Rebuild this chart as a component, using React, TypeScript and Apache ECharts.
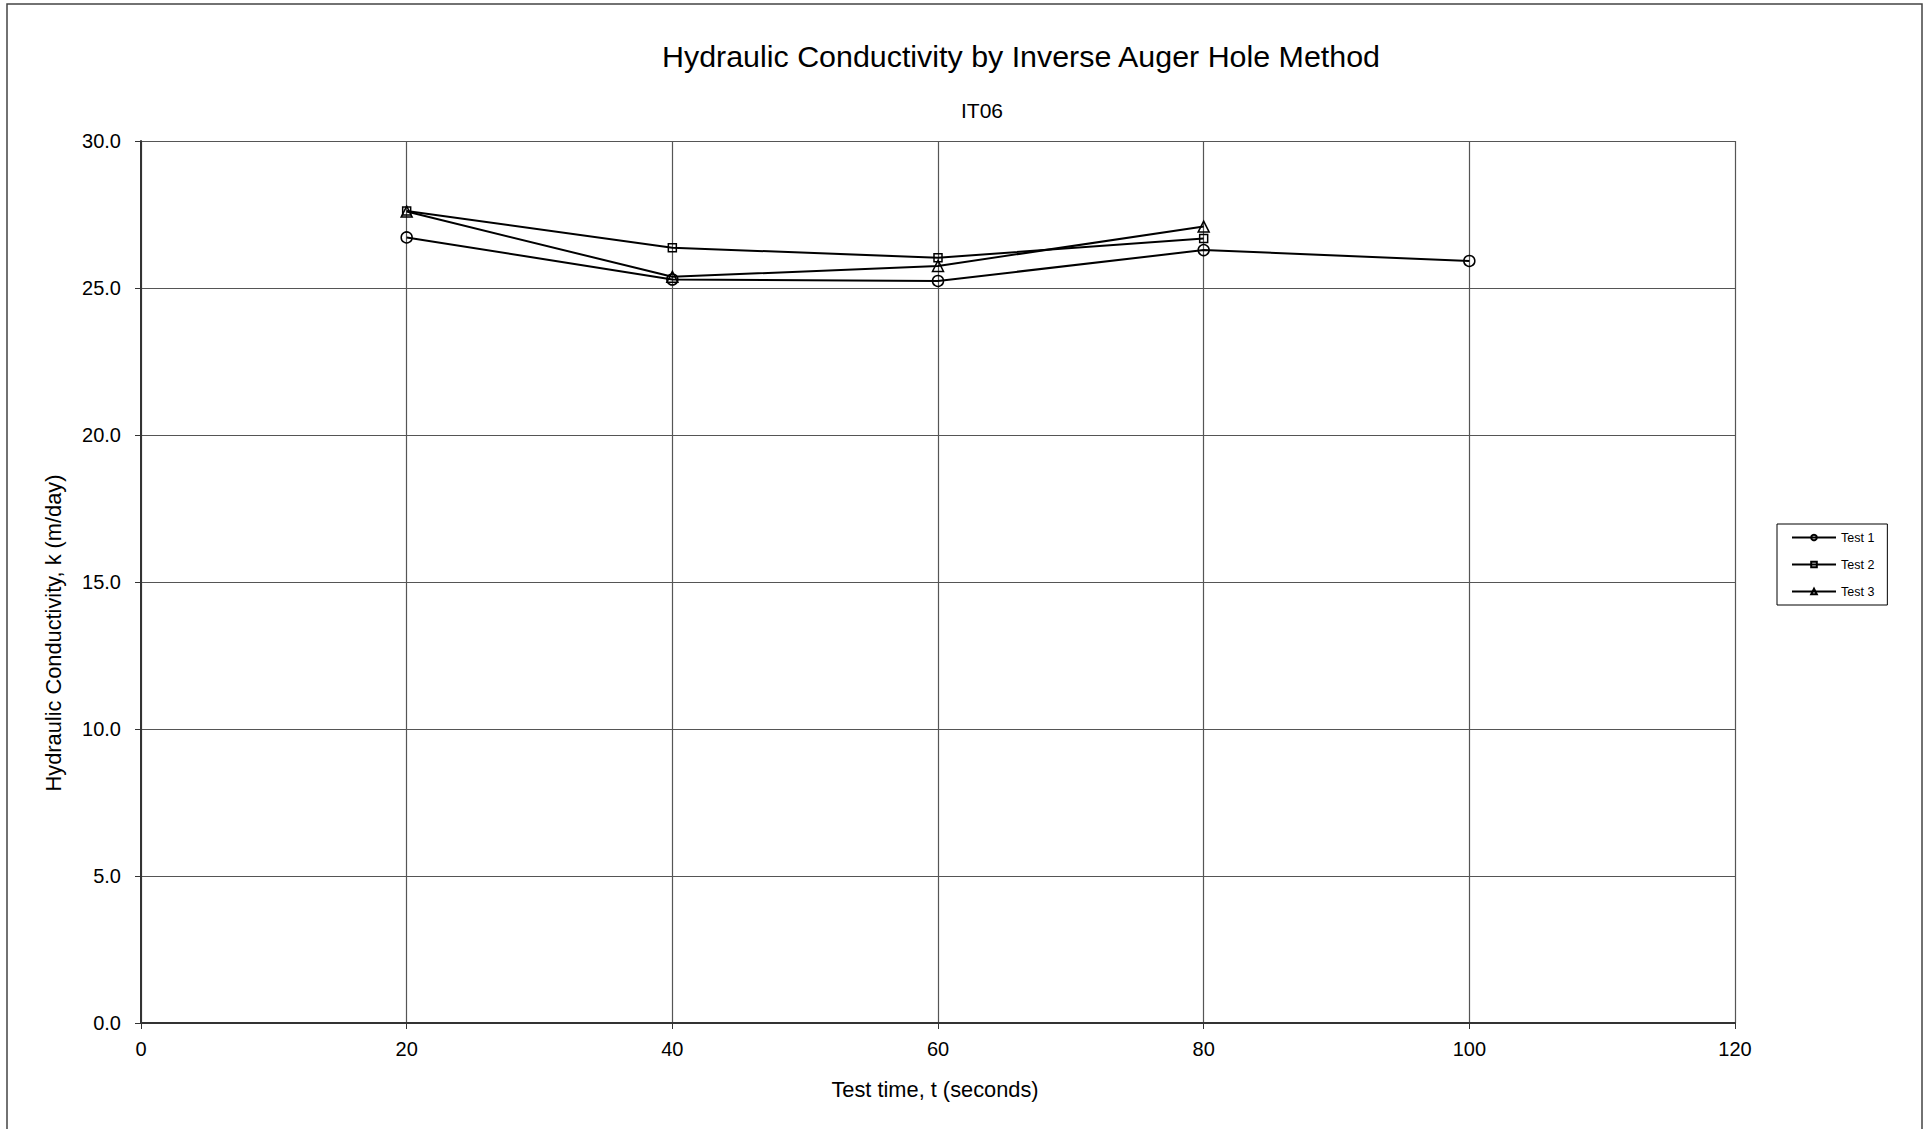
import React, { useEffect, useRef } from "react";
import * as echarts from "echarts";

const TITLE = "Hydraulic Conductivity by Inverse Auger Hole Method";
const SUBTITLE = "IT06";
const X_NAME = "Test time, t (seconds)";
const Y_NAME = "Hydraulic Conductivity, k (m/day)";
const SERIES_NAMES = ["Test 1", "Test 2", "Test 3"];
const TEST1_T = [20, 40, 60, 80, 100];
const TEST1_K = [26.72, 25.29, 25.24, 26.29, 25.92];
const TEST2_T = [20, 40, 60, 80];
const TEST2_K = [27.62, 26.37, 26.03, 26.68];
const TEST3_T = [20, 40, 60, 80];
const TEST3_K = [27.6, 25.38, 25.75, 27.09];
const SYMBOLS = ["circle", "rect", "triangle"];
const SYMBOL_SIZES = [11, 8, 11];

const FONT = "'Liberation Sans', Arial, sans-serif";

export default function App() {
  const ref = useRef<HTMLDivElement>(null);
  useEffect(() => {
    document.body.style.margin = "0";
    const chart = echarts.init(ref.current!, null, { renderer: "svg" });
    const xs = [TEST1_T, TEST2_T, TEST3_T];
    const ys = [TEST1_K, TEST2_K, TEST3_K];
    const series = SERIES_NAMES.map((name, i) => ({
      name,
      type: "line",
      data: xs[i].map((t, j) => [t, ys[i][j]]),
      symbol: SYMBOLS[i],
      symbolSize: SYMBOL_SIZES[i],
      showAllSymbol: true,
      lineStyle: { color: "#000", width: 2 },
      itemStyle: { color: "rgba(255,255,255,0)", borderColor: "#000", borderWidth: 1.5 },
      emphasis: { disabled: true },
      z: 3 + i,
    }));
    chart.setOption({
      animation: false,
      backgroundColor: "#fff",
      textStyle: { fontFamily: FONT },
      graphic: [
        {
          type: "rect",
          shape: { x: 7, y: 4, width: 1915, height: 1200 },
          style: { fill: "none", stroke: "#444", lineWidth: 1.5 },
          silent: true,
        },
        {
          type: "text",
          x: 1021,
          y: 56,
          style: {
            text: TITLE,
            font: `30.4px ${FONT}`,
            fill: "#000",
            align: "center",
            verticalAlign: "middle",
          },
        },
        {
          type: "text",
          x: 982,
          y: 110,
          style: {
            text: SUBTITLE,
            font: `21px ${FONT}`,
            fill: "#000",
            align: "center",
            verticalAlign: "middle",
          },
        },
        {
          type: "text",
          x: 935,
          y: 1089,
          style: {
            text: X_NAME,
            font: `21.8px ${FONT}`,
            fill: "#000",
            align: "center",
            verticalAlign: "middle",
          },
        },
        {
          type: "text",
          x: 53,
          y: 633,
          rotation: Math.PI / 2,
          style: {
            text: Y_NAME,
            font: `21.8px ${FONT}`,
            fill: "#000",
            align: "center",
            verticalAlign: "middle",
          },
        },
      ],
      legend: {
        orient: "vertical",
        left: 1777,
        top: 524,
        itemWidth: 44,
        itemHeight: 7,
        itemGap: 14,
        padding: [7, 13, 7, 14],
        borderColor: "#000",
        borderWidth: 1,
        borderRadius: 0,
        textStyle: { fontSize: 12.5, color: "#000", fontFamily: FONT },
        data: SERIES_NAMES,
      },
      grid: { left: 141, top: 141, right: 188, bottom: 106, containLabel: false },
      xAxis: {
        type: "value",
        min: 0,
        max: 120,
        interval: 20,
        axisLine: { show: true, onZero: false, lineStyle: { color: "#333", width: 2 } },
        axisTick: { show: true, inside: false, length: 6, lineStyle: { color: "#333", width: 1 } },
        axisLabel: { fontSize: 20, color: "#000", margin: 16, fontFamily: FONT },
        splitLine: { show: true, lineStyle: { color: "#555", width: 1.2 } },
      },
      yAxis: {
        type: "value",
        min: 0,
        max: 30,
        interval: 5,
        axisLine: { show: true, lineStyle: { color: "#333", width: 2 } },
        axisTick: { show: true, inside: false, length: 6, lineStyle: { color: "#333", width: 1 } },
        axisLabel: {
          fontSize: 20,
          color: "#000",
          margin: 20,
          fontFamily: FONT,
          formatter: (v: number) => v.toFixed(1),
        },
        splitLine: { show: true, lineStyle: { color: "#555", width: 1.2 } },
      },
      series,
    });
    return () => chart.dispose();
  }, []);
  return (
    <div
      ref={ref}
      style={{ position: "fixed", left: 0, top: 0, width: 1923, height: 1129 }}
    />
  );
}
